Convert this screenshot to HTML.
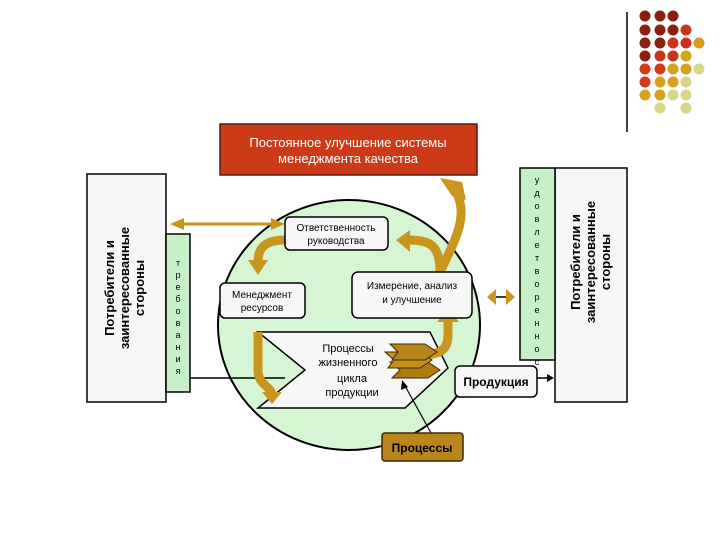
<!DOCTYPE html>
<html><head><meta charset="utf-8"><style>
body{margin:0;background:#fff}
svg{display:block}
text{font-family:"Liberation Sans","DejaVu Sans",sans-serif}
</style></head><body>
<svg width="720" height="540" viewBox="0 0 720 540" xmlns="http://www.w3.org/2000/svg">
<!-- decorative dots -->
<line x1="627" y1="12" x2="627" y2="132" stroke="#000" stroke-width="1.5"/>
<g>
<circle cx="645" cy="16" r="5.5" fill="#8b2012"/><circle cx="660" cy="16" r="5.5" fill="#8b2012"/><circle cx="673" cy="16" r="5.5" fill="#8b2012"/>
<circle cx="645" cy="30" r="5.5" fill="#8b2012"/><circle cx="660" cy="30" r="5.5" fill="#8b2012"/><circle cx="673" cy="30" r="5.5" fill="#8b2012"/><circle cx="686" cy="30" r="5.5" fill="#c8341a"/>
<circle cx="645" cy="43" r="5.5" fill="#8b2012"/><circle cx="660" cy="43" r="5.5" fill="#8b2012"/><circle cx="673" cy="43" r="5.5" fill="#c8341a"/><circle cx="686" cy="43" r="5.5" fill="#c8341a"/><circle cx="699" cy="43" r="5.5" fill="#d99a1c"/>
<circle cx="645" cy="56" r="5.5" fill="#8b2012"/><circle cx="660" cy="56" r="5.5" fill="#c8341a"/><circle cx="673" cy="56" r="5.5" fill="#c8341a"/><circle cx="686" cy="56" r="5.5" fill="#d4a21e"/>
<circle cx="645" cy="69" r="5.5" fill="#d23c1a"/><circle cx="660" cy="69" r="5.5" fill="#d23c1a"/><circle cx="673" cy="69" r="5.5" fill="#d4a21e"/><circle cx="686" cy="69" r="5.5" fill="#d4a21e"/><circle cx="699" cy="69" r="5.5" fill="#d6d68a"/>
<circle cx="645" cy="82" r="5.5" fill="#d23c1a"/><circle cx="660" cy="82" r="5.5" fill="#d9a01e"/><circle cx="673" cy="82" r="5.5" fill="#d9a01e"/><circle cx="686" cy="82" r="5.5" fill="#d6d68a"/>
<circle cx="645" cy="95" r="5.5" fill="#d9a01e"/><circle cx="660" cy="95" r="5.5" fill="#d9a01e"/><circle cx="673" cy="95" r="5.5" fill="#d6d68a"/><circle cx="686" cy="95" r="5.5" fill="#d6d68a"/>
<circle cx="660" cy="108" r="5.5" fill="#d6d68a"/><circle cx="686" cy="108" r="5.5" fill="#d6d68a"/>
</g>
<!-- red title box -->
<rect x="220" y="124" width="257" height="51" fill="#cc3a18" stroke="#5a1a0a" stroke-width="1.5"/>
<text x="348" y="147" font-size="13" fill="#fff" text-anchor="middle">Постоянное улучшение системы</text>
<text x="348" y="163" font-size="13" fill="#fff" text-anchor="middle">менеджмента качества</text>
<!-- left panel -->
<rect x="87" y="174" width="79" height="228" fill="#f7f7f7" stroke="#000" stroke-width="1.5"/>
<g transform="translate(126,288) rotate(-90)" font-size="13" text-anchor="middle" font-weight="bold">
<text x="0" y="-12">Потребители и</text><text x="0" y="3">заинтересованные</text><text x="0" y="18">стороны</text></g>
<rect x="166" y="234" width="24" height="158" fill="#c8f0c8" stroke="#000" stroke-width="1.5"/>
<g font-size="9" text-anchor="middle">
<text x="178" y="266">т</text><text x="178" y="278">р</text><text x="178" y="290">е</text><text x="178" y="302">б</text><text x="178" y="314">о</text><text x="178" y="326">в</text><text x="178" y="338">а</text><text x="178" y="350">н</text><text x="178" y="362">и</text><text x="178" y="374">я</text></g>
<!-- right panel -->
<rect x="555" y="168" width="72" height="234" fill="#f7f7f7" stroke="#000" stroke-width="1.5"/>
<g transform="translate(592,262) rotate(-90)" font-size="13" text-anchor="middle" font-weight="bold">
<text x="0" y="-12">Потребители и</text><text x="0" y="3">заинтересованные</text><text x="0" y="18">стороны</text></g>
<rect x="520" y="168" width="35" height="192" fill="#c8f0c8" stroke="#000" stroke-width="1.5"/>
<g font-size="9" text-anchor="middle">
<text x="537" y="183">у</text><text x="537" y="196">д</text><text x="537" y="209">о</text><text x="537" y="222">в</text><text x="537" y="235">л</text><text x="537" y="248">е</text><text x="537" y="261">т</text><text x="537" y="274">в</text><text x="537" y="287">о</text><text x="537" y="300">р</text><text x="537" y="313">е</text><text x="537" y="326">н</text><text x="537" y="339">н</text><text x="537" y="352">о</text><text x="537" y="365">с</text></g>
<!-- circle -->
<ellipse cx="349" cy="325" rx="131" ry="125" fill="#d6f5d2" stroke="#000" stroke-width="2"/>
<!-- arrow left top -->
<line x1="178" y1="224" x2="276" y2="224" stroke="#c8961e" stroke-width="3"/>
<polygon points="170,224 184,218 184,230" fill="#c8961e"/>
<polygon points="285,224 271,218 271,230" fill="#c8961e"/>
<!-- black line input -->
<line x1="190" y1="378" x2="285" y2="378" stroke="#000" stroke-width="1.5"/>
<!-- chevron -->
<polygon points="258,332 430,332 448,368 405,408 258,408 305,370" fill="#f7f7f7" stroke="#000" stroke-width="1.5"/>
<!-- gold curved arrows -->
<g fill="none" stroke="#c8961e" stroke-width="9">
<path d="M285,240 C265,240 258,248 258,262"/>
<path d="M258,332 L258,370 C258,385 270,385 272,395"/>
<path d="M440,272 C440,245 430,240 408,240"/>
<path d="M420,355 C440,355 448,350 448,335 L448,320"/>
<path d="M440,272 C455,240 470,215 455,190"/>
</g>
<polygon points="248,260 268,260 258,275" fill="#c8961e"/>
<polygon points="262,392 282,392 272,404" fill="#c8961e"/>
<polygon points="410,230 410,252 396,240" fill="#c8961e"/>
<polygon points="437,322 459,322 448,308" fill="#c8961e"/>
<polygon points="440,178 462,182 466,200 452,196" fill="#c8961e"/>
<!-- stacked shapes -->
<polygon points="390,362 428,362 440,370 428,378 392,378 400,370" fill="#b07a10" stroke="#3a2a00" stroke-width="1"/>
<polygon points="385,352 420,352 432,360 420,368 388,368 394,360" fill="#c8901a" stroke="#3a2a00" stroke-width="1"/>
<polygon points="390,344 425,344 437,352 425,360 392,360 398,352" fill="#b88418" stroke="#3a2a00" stroke-width="1"/>
<text x="348" y="352" font-size="11" text-anchor="middle">Процессы</text>
<text x="348" y="366" font-size="11" text-anchor="middle">жизненного</text>
<text x="352" y="382" font-size="11" text-anchor="middle">цикла</text>
<text x="352" y="396" font-size="11" text-anchor="middle">продукции</text>
<!-- boxes -->
<rect x="285" y="217" width="103" height="33" rx="5" fill="#f7f7f7" stroke="#000" stroke-width="1.5"/>
<text x="336" y="231" font-size="10" text-anchor="middle">Ответственность</text>
<text x="336" y="244" font-size="10" text-anchor="middle">руководства</text>
<rect x="220" y="283" width="85" height="35" rx="5" fill="#f7f7f7" stroke="#000" stroke-width="1.5"/>
<text x="262" y="298" font-size="10" text-anchor="middle">Менеджмент</text>
<text x="262" y="311" font-size="10" text-anchor="middle">ресурсов</text>
<rect x="352" y="272" width="120" height="46" rx="6" fill="#f7f7f7" stroke="#000" stroke-width="1.5"/>
<text x="412" y="289" font-size="10" text-anchor="middle">Измерение, анализ</text>
<text x="412" y="303" font-size="10" text-anchor="middle">и улучшение</text>
<!-- double arrow -->
<line x1="490" y1="297" x2="512" y2="297" stroke="#000" stroke-width="1.5"/>
<polygon points="487,297 496,289 496,305" fill="#c8961e"/>
<polygon points="515,297 506,289 506,305" fill="#c8961e"/>
<!-- Продукция -->
<rect x="455" y="366" width="82" height="31" rx="5" fill="#f7f7f7" stroke="#000" stroke-width="1.5"/>
<text x="496" y="386" font-size="12" text-anchor="middle" font-weight="bold">Продукция</text>
<line x1="537" y1="378" x2="550" y2="378" stroke="#000" stroke-width="1.5"/>
<polygon points="554,378 547,374 547,382" fill="#000"/>
<!-- Процессы -->
<line x1="431" y1="433" x2="404" y2="384" stroke="#000" stroke-width="1.2"/>
<polygon points="402,380 401,390 408,387" fill="#000"/>
<rect x="382" y="433" width="81" height="28" rx="3" fill="#b8861b" stroke="#3a2a00" stroke-width="1.5"/>
<text x="422" y="452" font-size="12" text-anchor="middle" font-weight="bold">Процессы</text>
</svg>
</body></html>
